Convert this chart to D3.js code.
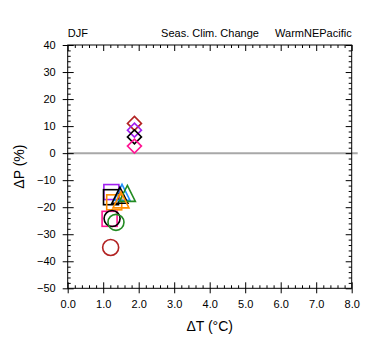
<!DOCTYPE html>
<html><head><meta charset="utf-8">
<script src="https://cdn.jsdelivr.net/npm/d3@7"></script>
<style>body{margin:0;background:#fff}svg{display:block}text{font-family:"Liberation Sans",Arial,Helvetica,sans-serif}</style>
</head><body><svg id="c" width="380" height="355"></svg>
<script>
// ---- data ----
const xTicks = [0,1,2,3,4,5,6,7,8];
const yTicks = [40,30,20,10,0,-10,-20,-30,-40,-50];
const diamondModel = ["m1","m2","m3","m4"];
const diamondX = [1.88,1.88,1.88,1.88];
const diamondY = [11.0,8.5,6.0,2.6];
const squareModel = ["m2","m3","m5","m4"];
const squareX = [1.23,1.22,1.31,1.18];
const squareY = [-14.4,-16.3,-18.2,-24.3];
const circleModel = ["m3","m6","m1"];
const circleX = [1.25,1.36,1.21];
const circleY = [-24.2,-25.6,-34.9];
const triangleModel = ["m7","m3","m6","m5"];
const triangleX = [1.53,1.47,1.68,1.50];
const triangleY = [-14.8,-15.9,-15.2,-17.6];

const palette = {m1:"#b22222",m2:"#a020f0",m3:"#000000",m4:"#ff1493",m5:"#ff8c00",m6:"#228b22",m7:"#1e90ff"};

const svg = d3.select("#c");
const L=67.7,R=351.7,T=45,B=288.3;
const x = d3.scaleLinear().domain([0,8]).range([L,R]);
const y = d3.scaleLinear().domain([-50,40]).range([B,T]);

// zero line
svg.append("line").attr("x1",x(0)).attr("x2",x(8)+6).attr("y1",y(0)).attr("y2",y(0))
  .attr("stroke","#a8a8a8").attr("stroke-width",2);

// frame
svg.append("rect").attr("x",L).attr("y",T).attr("width",R-L).attr("height",B-T)
  .attr("fill","none").attr("stroke","#000").attr("stroke-width",1);

const minorX = d3.range(0,8.001,0.2).filter(v=>Math.abs(v-Math.round(v))>1e-6);
const minorY = d3.range(-50,40.001,2).filter(v=>v%10!==0);

function axis(gen, tr){
  const g = svg.append("g").attr("transform",tr).call(gen);
  g.select(".domain").remove();
  g.selectAll("line").attr("stroke","#000");
  return g;
}
const fs = 11;
// bottom
const gb = axis(d3.axisBottom(x).tickValues(xTicks).tickFormat(d3.format(".1f")).tickSizeInner(-6).tickSizeOuter(0).tickPadding(12), `translate(0,${B})`);
axis(d3.axisBottom(x).tickValues(minorX).tickFormat("").tickSizeInner(-3).tickSizeOuter(0), `translate(0,${B})`);
gb.selectAll("line").attr("y1",5);
// top
axis(d3.axisTop(x).tickValues(xTicks).tickFormat("").tickSizeInner(-6).tickSizeOuter(0), `translate(0,${T})`);
axis(d3.axisTop(x).tickValues(minorX).tickFormat("").tickSizeInner(-3).tickSizeOuter(0), `translate(0,${T})`);
// left
const gl = axis(d3.axisLeft(y).tickValues(yTicks).tickFormat(d3.format("d")).tickSizeInner(-6).tickSizeOuter(0).tickPadding(12), `translate(${L},0)`);
gl.selectAll("line").attr("x1",-5);
axis(d3.axisLeft(y).tickValues(minorY).tickFormat("").tickSizeInner(-3).tickSizeOuter(0), `translate(${L},0)`);
// right
axis(d3.axisRight(y).tickValues(yTicks).tickFormat("").tickSizeInner(-6).tickSizeOuter(0), `translate(${R},0)`);
axis(d3.axisRight(y).tickValues(minorY).tickFormat("").tickSizeInner(-3).tickSizeOuter(0), `translate(${R},0)`);
svg.selectAll(".tick text").attr("font-size",fs).attr("font-family","Liberation Sans, Arial, sans-serif").attr("fill","#000");

// titles
svg.append("text").attr("x",L).attr("y",37).attr("font-size",11).text("DJF");
svg.append("text").attr("x",210).attr("y",37).attr("font-size",11).attr("text-anchor","middle").text("Seas. Clim. Change");
svg.append("text").attr("x",R).attr("y",37).attr("font-size",11).attr("text-anchor","end").text("WarmNEPacific");
svg.append("text").attr("x",(L+R)/2).attr("y",331).attr("font-size",14).attr("text-anchor","middle").text("\u0394T (\u00B0C)");
svg.append("text").attr("transform",`translate(24,${(T+B)/2}) rotate(-90)`).attr("font-size",14).attr("text-anchor","middle").text("\u0394P (%)");

// markers
const sw = 1.6;
function pts(xs,ys,ms){return xs.map((v,i)=>({x:v,y:ys[i],m:ms[i]}));}
svg.append("g").selectAll("path").data(pts(diamondX,diamondY,diamondModel)).join("path")
  .attr("d",d=>{const cx=x(d.x),cy=y(d.y),r=7;return `M${cx},${cy-r}L${cx+r},${cy}L${cx},${cy+r}L${cx-r},${cy}Z`;})
  .attr("fill","none").attr("stroke",d=>palette[d.m]).attr("stroke-width",sw);
svg.append("g").selectAll("rect").data(pts(squareX,squareY,squareModel)).join("rect")
  .attr("x",d=>x(d.x)-7.5).attr("y",d=>y(d.y)-7.5).attr("width",15).attr("height",15)
  .attr("fill","none").attr("stroke",d=>palette[d.m]).attr("stroke-width",sw);
svg.append("g").selectAll("circle").data(pts(circleX,circleY,circleModel)).join("circle")
  .attr("cx",d=>x(d.x)).attr("cy",d=>y(d.y)).attr("r",8)
  .attr("fill","none").attr("stroke",d=>palette[d.m]).attr("stroke-width",sw);
svg.append("g").selectAll("path").data(pts(triangleX,triangleY,triangleModel)).join("path")
  .attr("d",d=>{const cx=x(d.x),cy=y(d.y),h=16,w=8;return `M${cx},${cy-h*0.55}L${cx+w},${cy+h*0.45}L${cx-w},${cy+h*0.45}Z`;})
  .attr("fill","none").attr("stroke",d=>palette[d.m]).attr("stroke-width",sw);
</script></body></html>
